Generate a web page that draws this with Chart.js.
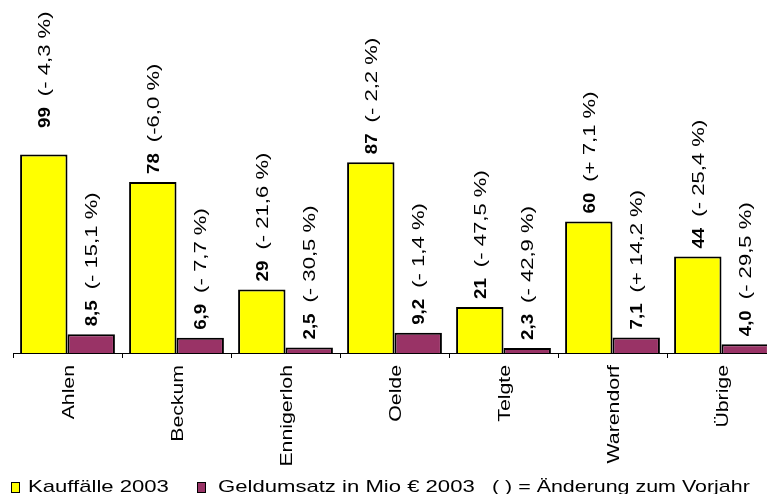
<!DOCTYPE html>
<html>
<head>
<meta charset="utf-8">
<script src="https://cdn.jsdelivr.net/npm/chart.js@4"></script>
<style>
  html, body { margin: 0; padding: 0; background: #fff; overflow: hidden; }
  #wrap { position: relative; width: 789px; height: 494px; }
  .leg { position: absolute; top: 477px; font: 17px "Liberation Sans", Arial, sans-serif; line-height: 19px; color: #000; white-space: nowrap; transform: scaleX(1.3); transform-origin: left top; }
  .box { position: absolute; top: 482px; width: 7px; height: 9px; border: 1px solid #000; }
</style>
</head>
<body>
<div id="wrap">
  <canvas id="grafica" width="789" height="494"></canvas>
  <div class="box" style="left:11px;background:#ffff00"></div>
  <div class="leg" style="left:28px">Kauffälle 2003</div>
  <div class="box" style="left:197px;background:#993366"></div>
  <div class="leg" style="left:218px">Geldumsatz in Mio € 2003</div>
  <div class="leg" style="left:492px;transform:scaleX(1.26)">( ) = Änderung zum Vorjahr</div>
</div>
<script>
var orte = ["Ahlen", "Beckum", "Ennigerloh", "Oelde", "Telgte", "Warendorf", "Übrige"];
// Balkenhoehen
var kauffaelle = [90.5, 78, 29, 87, 21, 60, 44];
var geldumsatz = [8.5, 6.9, 2.5, 9.2, 2.3, 7.1, 4.0];
// Beschriftungen
var kauffaelleText = ["99", "78", "29", "87", "21", "60", "44"];
var kauffaelleProz = ["(- 4,3 %)", "(-6,0 %)", "(- 21,6 %)", "(- 2,2 %)", "(- 47,5 %)", "(+ 7,1 %)", "(- 25,4 %)"];
var geldText = ["8,5", "6,9", "2,5", "9,2", "2,3", "7,1", "4,0"];
var geldProz = ["(- 15,1 %)", "(- 7,7 %)", "(- 30,5 %)", "(- 1,4 %)", "(- 42,9 %)", "(+ 14,2 %)", "(- 29,5 %)"];

var schrift = '"Liberation Sans", Arial, sans-serif';

// senkrechten Text zeichnen (von unten nach oben), etwas gestreckt wie im Original
function senkrecht(ctx, text, x, y, font, streck, align) {
    ctx.save();
    ctx.translate(x, y);
    ctx.rotate(-Math.PI / 2);
    ctx.scale(streck, 1);
    ctx.font = font;
    ctx.fillStyle = '#000';
    ctx.textAlign = align;
    ctx.textBaseline = 'alphabetic';
    ctx.fillText(text, 0, 6);
    var w = ctx.measureText(text).width * streck;
    ctx.restore();
    return w;
}

var beschriftung = {
    id: 'beschriftung',
    afterDatasetsDraw: function (chart) {
        var ctx = chart.ctx;
        var y = chart.scales.y;
        var x = chart.scales.x;
        var sets = [[kauffaelleText, kauffaelleProz], [geldText, geldProz]];
        for (var d = 0; d < 2; d++) {
            var meta = chart.getDatasetMeta(d);
            for (var i = 0; i < orte.length; i++) {
                var zahl = sets[d][0][i];
                var wert = parseFloat(zahl.replace(',', '.'));
                var px = meta.data[i].x;
                var py = y.getPixelForValue(wert) - 8;
                var w = senkrecht(ctx, zahl, px, py, 'bold 17px ' + schrift, 1.1, 'left');
                senkrecht(ctx, sets[d][1][i], px, py - w - 11, '17px ' + schrift, 1.3, 'left');
            }
        }
        // Ortsnamen unter der Achse
        for (var k = 0; k < orte.length; k++) {
            senkrecht(ctx, orte[k], x.getPixelForValue(k), chart.chartArea.bottom + 12, '17px ' + schrift, 1.25, 'right');
        }
    }
};

var ctx = document.getElementById("grafica").getContext("2d");
var myChart = new Chart(ctx, {
    type: 'bar',
    data: {
        labels: orte,
        datasets: [
            {
                label: "Kauffälle 2003",
                data: kauffaelle,
                backgroundColor: "#ffff00",
                borderColor: "#000",
                borderWidth: 2,
                categoryPercentage: 0.87,
                barPercentage: 1
            },
            {
                label: "Geldumsatz in Mio € 2003",
                data: geldumsatz,
                backgroundColor: "#993366",
                borderColor: "#000",
                borderWidth: 2,
                categoryPercentage: 0.87,
                barPercentage: 1
            }
        ]
    },
    options: {
        responsive: false,
        animation: false,
        layout: { padding: { left: 13, right: 13, top: 0, bottom: 0 } },
        plugins: {
            legend: { display: false },
            tooltip: { enabled: false }
        },
        scales: {
            x: {
                grid: {
                    offset: true,
                    drawOnChartArea: false,
                    color: '#000',
                    tickLength: 5
                },
                border: { color: '#000', width: 1 },
                ticks: { display: false },
                afterFit: function (scale) { scale.height = 141; }
            },
            y: {
                display: false,
                min: 0,
                max: 161
            }
        }
    },
    plugins: [beschriftung]
});
</script>
</body>
</html>
